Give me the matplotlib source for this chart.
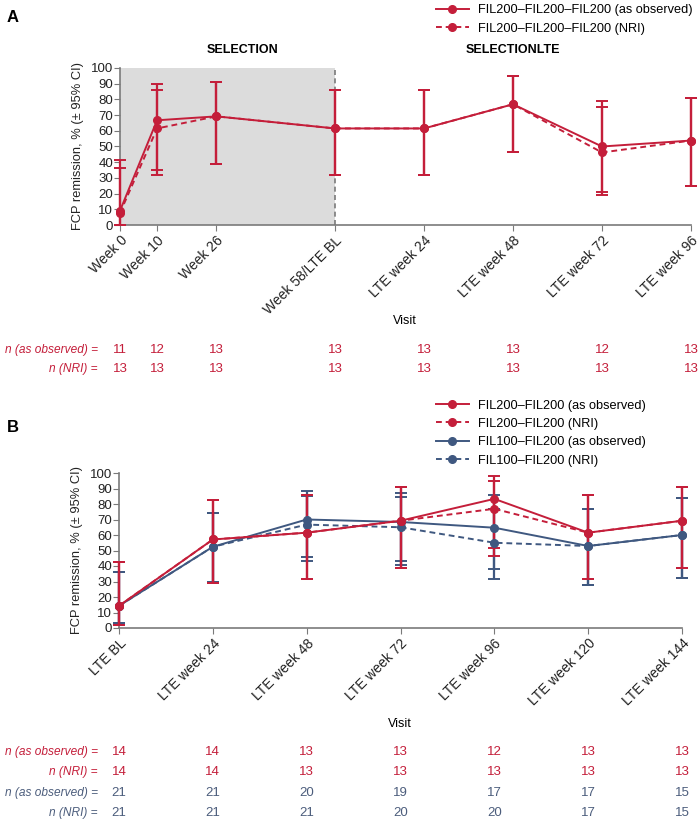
import matplotlib
matplotlib.use('Agg')
import matplotlib.pyplot as plt
from matplotlib.lines import Line2D
import matplotlib.transforms as mtransforms

plt.rcParams['font.family'] = ['Liberation Sans', 'DejaVu Sans']

RED = '#c41e3a'
BLUE = '#3f5880'
NBLUE = '#4c5d7c'
GRAY = '#7a7a7a'

# ---- panel A data (weeks since selection baseline)
weeks_a = [0, 10, 26, 58, 82, 106, 130, 154]
labels_a = ['Week 0', 'Week 10', 'Week 26', 'Week 58/LTE BL',
            'LTE week 24', 'LTE week 48', 'LTE week 72', 'LTE week 96']
a_obs = [9.1, 66.7, 69.2, 61.5, 61.5, 76.9, 50.0, 53.8]
a_obs_lo = [0.2, 34.9, 38.6, 31.6, 31.6, 46.2, 21.1, 25.1]
a_obs_hi = [41.3, 90.1, 90.9, 86.1, 86.1, 95.0, 78.9, 80.8]
a_nri = [7.7, 61.5, 69.2, 61.5, 61.5, 76.9, 46.2, 53.8]
a_nri_lo = [0.2, 31.6, 38.6, 31.6, 31.6, 46.2, 19.2, 25.1]
a_nri_hi = [36.0, 86.1, 90.9, 86.1, 86.1, 95.0, 74.9, 80.8]
n_obs_a = [11, 12, 13, 13, 13, 13, 12, 13]
n_nri_a = [13, 13, 13, 13, 13, 13, 13, 13]

# ---- panel B data
weeks_b = [0, 24, 48, 72, 96, 120, 144]
labels_b = ['LTE BL', 'LTE week 24', 'LTE week 48', 'LTE week 72',
            'LTE week 96', 'LTE week 120', 'LTE week 144']
b200_obs = [14.3, 57.1, 61.5, 69.2, 83.3, 61.5, 69.2]
b200_obs_lo = [1.8, 28.9, 31.6, 38.6, 51.6, 31.6, 38.6]
b200_obs_hi = [42.8, 82.3, 86.1, 90.9, 97.9, 86.1, 90.9]
b200_nri = [14.3, 57.1, 61.5, 69.2, 76.9, 61.5, 69.2]
b200_nri_lo = [1.8, 28.9, 31.6, 38.6, 46.2, 31.6, 38.6]
b200_nri_hi = [42.8, 82.3, 86.1, 90.9, 95.0, 86.1, 90.9]
b100_obs = [14.3, 52.4, 70.0, 68.4, 64.7, 52.9, 60.0]
b100_obs_lo = [3.0, 29.8, 45.7, 43.4, 38.3, 27.8, 32.3]
b100_obs_hi = [36.3, 74.3, 88.1, 87.4, 85.8, 77.0, 83.7]
b100_nri = [14.3, 52.4, 66.7, 65.0, 55.0, 52.9, 60.0]
b100_nri_lo = [3.0, 29.8, 43.0, 40.8, 31.5, 27.8, 32.3]
b100_nri_hi = [36.3, 74.3, 85.4, 84.6, 76.9, 77.0, 83.7]
n200_obs = [14, 14, 13, 13, 12, 13, 13]
n200_nri = [14, 14, 13, 13, 13, 13, 13]
n100_obs = [21, 21, 20, 19, 17, 17, 15]
n100_nri = [21, 21, 21, 20, 20, 17, 15]

W, H = 700, 822
fig = plt.figure(figsize=(7, 8.22), dpi=100)


def fx(px):
    return px / W


def fy(py):
    return 1 - py / H


def series(ax, x, y, lo, hi, color, dashed):
    err = [[v - l for v, l in zip(y, lo)], [h - v for v, h in zip(y, hi)]]
    ls = (0, (3, 2)) if dashed else '-'
    ax.errorbar(x, y, yerr=err, color=color, ls=ls, lw=1.4, marker='o', ms=5.5,
                elinewidth=1.6, capsize=4.5, capthick=1.4, clip_on=False, zorder=3)


def style(ax, x, labels):
    ax.set_ylim(0, 100)
    ax.set_xlim(x[0], x[-1])
    ax.set_yticks(range(0, 101, 10))
    ax.set_xticks(x)
    ax.set_xticklabels(labels, rotation=45, ha='right', rotation_mode='anchor', fontsize=10)
    for s in ['top', 'right']:
        ax.spines[s].set_visible(False)
    for s in ['left', 'bottom']:
        ax.spines[s].set_color(GRAY)
        ax.spines[s].set_linewidth(1.2)
    ax.tick_params(colors=GRAY, labelcolor='#222222', length=4, pad=2)
    ax.tick_params(axis='y', labelsize=9.5, pad=1)
    ax.set_ylabel('FCP remission, % (± 95% CI)', fontsize=9.3, color='#222222', labelpad=5)


def ntable(ax, x, rows, ys):
    tr = mtransforms.blended_transform_factory(ax.transData, fig.transFigure)
    for (label, vals, col), py in zip(rows, ys):
        fig.text(fx(101), fy(py), label + ' = ', ha='right', va='center',
                 fontsize=8.6, style='italic', color=col)
        for xi, v in zip(x, vals):
            ax.text(xi, fy(py), str(v), transform=tr, ha='center', va='center',
                    fontsize=9.5, color=col)


# ---------------- panel A
axA = fig.add_axes([fx(120), fy(225), fx(691) - fx(120), fy(68) - fy(225)])
axA.axvspan(0, 58, color='#dcdcdc', zorder=0, lw=0)
axA.axvline(58, color=GRAY, ls=(0, (3, 2)), lw=1.2, zorder=1)
series(axA, weeks_a, a_nri, a_nri_lo, a_nri_hi, RED, True)
series(axA, weeks_a, a_obs, a_obs_lo, a_obs_hi, RED, False)
style(axA, weeks_a, labels_a)

fig.text(fx(13), fy(17), 'A', fontsize=12, fontweight='bold', ha='center', va='center')
fig.text(fx(243), fy(50), 'SELECTION', fontsize=9, fontweight='bold', ha='center', va='center')
fig.text(fx(513), fy(50), 'SELECTIONLTE', fontsize=9, fontweight='bold', ha='center', va='center')
fig.text(fx(405), fy(321), 'Visit', fontsize=9, ha='center', va='center')

ntable(axA, weeks_a, [('n (as observed)', n_obs_a, RED), ('n (NRI)', n_nri_a, RED)], [350, 369])

hA = [Line2D([], [], color=RED, lw=1.4, marker='o', ms=5.5),
      Line2D([], [], color=RED, lw=1.4, ls=(0, (3, 2)), marker='o', ms=5.5)]
fig.legend(hA, ['FIL200–FIL200–FIL200 (as observed)', 'FIL200–FIL200–FIL200 (NRI)'],
           loc='upper left', bbox_to_anchor=(fx(424), fy(-7)), frameon=False,
           fontsize=9.2, handlelength=2.6, handletextpad=0.75, labelspacing=0.5)

# ---------------- panel B
axB = fig.add_axes([fx(119), fy(628), fx(682) - fx(119), fy(473) - fy(628)])
series(axB, weeks_b, b100_nri, b100_nri_lo, b100_nri_hi, BLUE, True)
series(axB, weeks_b, b100_obs, b100_obs_lo, b100_obs_hi, BLUE, False)
series(axB, weeks_b, b200_nri, b200_nri_lo, b200_nri_hi, RED, True)
series(axB, weeks_b, b200_obs, b200_obs_lo, b200_obs_hi, RED, False)
style(axB, weeks_b, labels_b)

fig.text(fx(13), fy(427), 'B', fontsize=12, fontweight='bold', ha='center', va='center')
fig.text(fx(400), fy(724), 'Visit', fontsize=9, ha='center', va='center')

ntable(axB, weeks_b, [('n (as observed)', n200_obs, RED), ('n (NRI)', n200_nri, RED),
                      ('n (as observed)', n100_obs, NBLUE), ('n (NRI)', n100_nri, NBLUE)],
       [752, 772, 793, 813])

hB = [Line2D([], [], color=RED, lw=1.4, marker='o', ms=5.5),
      Line2D([], [], color=RED, lw=1.4, ls=(0, (3, 2)), marker='o', ms=5.5),
      Line2D([], [], color=BLUE, lw=1.4, marker='o', ms=5.5),
      Line2D([], [], color=BLUE, lw=1.4, ls=(0, (3, 2)), marker='o', ms=5.5)]
fig.legend(hB, ['FIL200–FIL200 (as observed)', 'FIL200–FIL200 (NRI)',
                'FIL100–FIL200 (as observed)', 'FIL100–FIL200 (NRI)'],
           loc='upper left', bbox_to_anchor=(fx(424), fy(388)), frameon=False,
           fontsize=9.2, handlelength=2.6, handletextpad=0.75, labelspacing=0.5)

fig.savefig('out.png', dpi=100)
